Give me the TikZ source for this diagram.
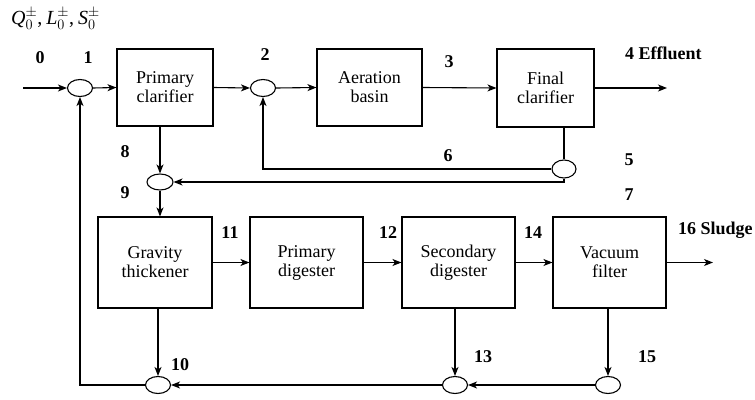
\documentclass[tikz,border=0pt]{standalone}
\usepackage{fontspec}
\setmainfont{Liberation Serif}
\usetikzlibrary{arrows.meta,shapes.geometric}
\begin{document}
\begin{tikzpicture}[x=1pt,y=-1pt,
  unit/.style={draw,line width=1.1pt,minimum width=#1,inner sep=0pt,align=center,
    font=\fontsize{18}{19}\selectfont},
  junc/.style={draw,ellipse,line width=1.1pt,minimum width=25pt,minimum height=17pt,inner sep=0pt},
  lbl/.style={font=\fontsize{18}{19}\selectfont\bfseries,inner sep=0pt},
  flow/.style={line width=1.1pt,-{Stealth[length=9pt,width=7pt,inset=2.5pt]}},
  pipe/.style={line width=1.1pt}]
\useasboundingbox (0,0) rectangle (755,399);
% units
\node[unit=96pt,minimum height=77pt] (pc) at (165,87.5) {Primary\\clarifier};
\node[unit=105pt,minimum height=77pt] (ab) at (369.5,87.5) {Aeration\\basin};
\node[unit=97pt,minimum height=78pt] (fc) at (545.5,88) {Final\\clarifier};
\node[unit=114pt,minimum height=91pt] (gt) at (155,262.5) {Gravity\\thickener};
\node[unit=113pt,minimum height=91pt] (pd) at (306.5,262.5) {Primary\\digester};
\node[unit=113pt,minimum height=91pt] (sd) at (458.5,262.5) {Secondary\\digester};
\node[unit=113pt,minimum height=91pt] (vf) at (609.5,262.5) {Vacuum\\filter};
% junctions
\node[junc] (e1) at (80,88) {};
\node[junc] (e2) at (263,88) {};
\node[junc,minimum width=24pt,minimum height=18pt] (e5) at (564,169) {};
\node[junc,minimum width=26pt,minimum height=16pt] (e9) at (160,182) {};
\node[junc] (e10) at (158,385) {};
\node[junc] (e13) at (455,385) {};
\node[junc] (e15) at (608,385) {};
\coordinate (in0) at (23,88);
\coordinate (eff) at (667,88);
\coordinate (sl) at (713,262.5);
% flows
\draw[flow] (in0) -- (e1.west);
\draw[flow] (e1.east) -- (pc.west);
\draw[flow] (pc.east) -- (e2.west);
\draw[flow] (e2.east) -- (ab.west);
\draw[flow] (ab.east) -- (fc.west);
\draw[flow] (fc.east) -- (eff);
\draw[pipe] (e5.north |- fc.south) -- (e5.north);
\draw[flow] (e5.west) -| (e2.south);
\draw[flow] (e5.south) |- (e9.east);
\draw[flow] (e9.north |- pc.south) -- (e9.north);
\draw[flow] (e9.south) -- (e9.south |- gt.north);
\draw[flow] (gt.east) -- (pd.west);
\draw[flow] (pd.east) -- (sd.west);
\draw[flow] (sd.east) -- (vf.west);
\draw[flow] (vf.east) -- (sl);
\draw[flow] (e10.north |- gt.south) -- (e10.north);
\draw[flow] (e13.north |- sd.south) -- (e13.north);
\draw[flow] (e15.north |- vf.south) -- (e15.north);
\draw[flow] (e15.west) -- (e13.east);
\draw[flow] (e13.west) -- (e10.east);
\draw[flow] (e10.west) -| (e1.south);
% labels
\node[anchor=west,inner sep=0pt,font=\fontsize{20}{21}\selectfont] (title) at (11,19)
  {$\textit{Q}_0^{\pm}$,\hspace{4pt}$\textit{L}_0^{\pm}$,\hspace{4pt}$\textit{S}_0^{\pm}$};
\node[lbl] (l0) at (40,58) {0};
\node[lbl] (l1) at (88,58) {1};
\node[lbl] (l2) at (265,55) {2};
\node[lbl] (l3) at (449,62) {3};
\node[lbl,anchor=west] (l4) at (625,53) {4 Effluent};
\node[lbl] (l5) at (629,160) {5};
\node[lbl] (l6) at (448,156) {6};
\node[lbl] (l7) at (629,195) {7};
\node[lbl] (l8) at (125,152) {8};
\node[lbl] (l9) at (125,193) {9};
\node[lbl] (l10) at (180,365) {10};
\node[lbl] (l11) at (230,233) {11};
\node[lbl] (l12) at (388,233) {12};
\node[lbl] (l13) at (483,357) {13};
\node[lbl] (l14) at (533,233) {14};
\node[lbl] (l15) at (647,357) {15};
\node[lbl,anchor=west] (l16) at (678,230) {16 Sludge};
\end{tikzpicture}
\end{document}
